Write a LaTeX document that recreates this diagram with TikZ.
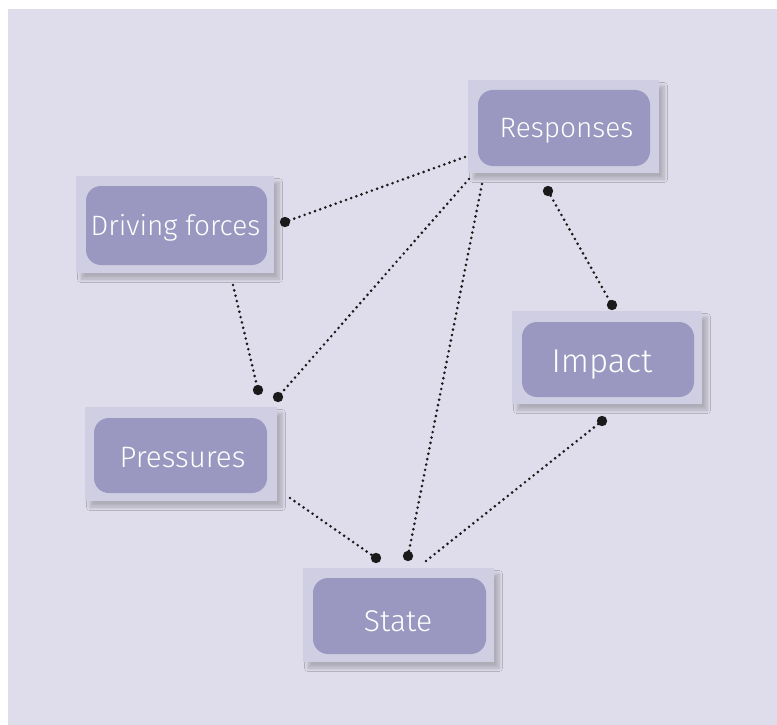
\documentclass[tikz,border=0pt]{standalone}
\usepackage{fontspec}
\setmainfont{Fira Sans}[UprightFont={* Light}]
\usetikzlibrary{shadows.blur}
\definecolor{bgc}{HTML}{DFDDEB}
\definecolor{outerc}{HTML}{CFCEE2}
\definecolor{innerc}{HTML}{9A98C0}
\definecolor{dotc}{HTML}{1A1A1A}
\tikzset{
  outerbox/.style={draw=none, fill=outerc, minimum width=#1, inner sep=0pt,
    blur shadow={shadow xshift=5pt, shadow yshift=-6pt, shadow blur radius=3.5pt, shadow blur steps=8, shadow opacity=22}},
  innerbox/.style={draw=none, fill=innerc, rounded corners=15pt, inner sep=0pt},
  label/.style={text=white, inner sep=0pt},
  link/.style={dotc, line width=2.9pt, line cap=round, dash pattern=on 0pt off 5.5pt},
  blob/.style={fill=dotc},
}
\begin{document}
\begin{tikzpicture}[x=1pt, y=-1pt]
\useasboundingbox (0,0) rectangle (777,725);
\fill[white] (0,0) rectangle (777,725);
\fill[bgc] (8,9) rectangle (777,725);

% outer panels
\node[outerbox=191pt, minimum height=93pt] (respO) at (563.5,126.5) {};
\node[outerbox=198pt, minimum height=97pt] (drivO) at (175,224.5) {};
\node[outerbox=192pt, minimum height=94pt] (presO) at (181,454) {};
\node[outerbox=191pt, minimum height=94pt] (statO) at (398.5,615) {};
\node[outerbox=190pt, minimum height=93pt] (impO) at (607,357.5) {};

% inner boxes
\node[innerbox, minimum width=172pt, minimum height=76pt] (resp) at (564,128) {};
\node[innerbox, minimum width=181pt, minimum height=79pt] (driv) at (176.5,225.5) {};
\node[innerbox, minimum width=173pt, minimum height=75pt] (pres) at (180.5,455.5) {};
\node[innerbox, minimum width=173pt, minimum height=76pt] (stat) at (399.5,616) {};
\node[innerbox, minimum width=172pt, minimum height=75pt] (imp) at (608,359.5) {};

% labels (anchored on their base line)
\node[label, anchor=base, font=\fontsize{28}{31}\selectfont] (respT) at (566.5,137) {Responses};
\node[label, anchor=base, font=\fontsize{28}{31}\selectfont] (drivT) at (175.5,235) {Driving forces};
\node[label, anchor=base, font=\fontsize{29.5}{32}\selectfont] (presT) at (182.5,467) {Pressures};
\node[label, anchor=base, font=\fontsize{30}{33}\selectfont] (statT) at (398,631) {State};
\node[label, anchor=base, font=\fontsize{33}{36}\selectfont] (impT) at (602,372) {Impact};

% connector end points
\coordinate (r1) at (465,157);
\coordinate (r2) at (469,179);
\coordinate (r3) at (482,184);
\coordinate (r4) at (548,191);
\coordinate (d1) at (285,222);
\coordinate (d2) at (233,285);
\coordinate (p1) at (258,390);
\coordinate (p2) at (278,397);
\coordinate (p3) at (290,498);
\coordinate (s1) at (376,558);
\coordinate (s2) at (408,556);
\coordinate (s3) at (426,561);
\coordinate (i1) at (612,305);
\coordinate (i2) at (602,421);

\draw[link] (r1) -- (d1);
\draw[link] (r2) -- (p2);
\draw[link] (r3) -- (s2);
\draw[link] (r4) -- (i1);
\draw[link] (d2) -- (p1);
\draw[link] (p3) -- (s1);
\draw[link] (s3) -- (i2);

\foreach \c in {d1,p1,p2,s1,s2,r4,i1,i2}
  \fill[blob] (\c) circle (5.2pt);
\end{tikzpicture}
\end{document}
